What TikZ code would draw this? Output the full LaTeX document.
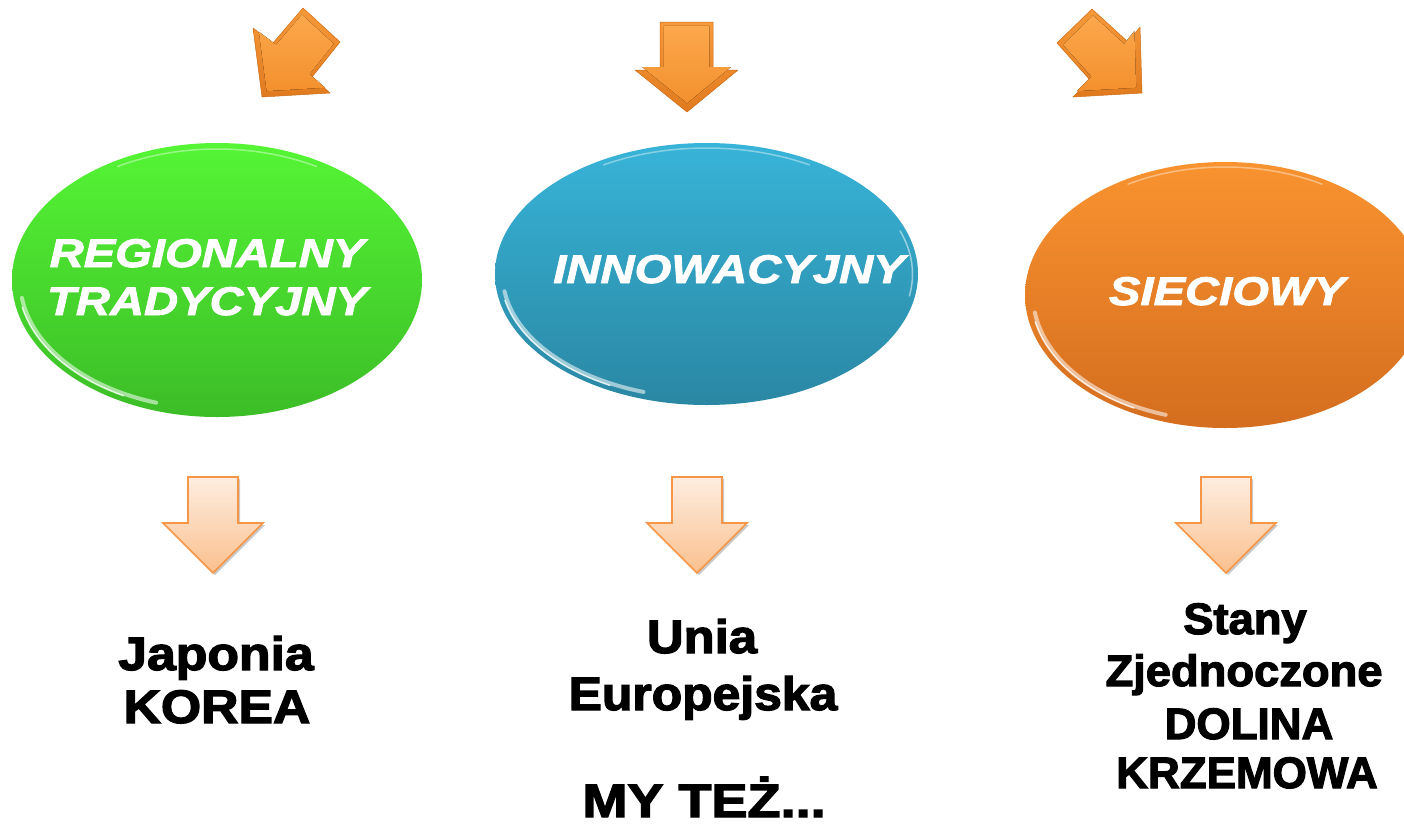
\documentclass[tikz,border=0pt]{standalone}
\usepackage{fontspec}
\setmainfont{Liberation Sans}
\newfontfamily\blk{Liberation Sans}[BoldFeatures={FakeBold=2.6}]
\newfontfamily\elf{Liberation Sans}[FakeStretch=1.18,BoldItalicFeatures={FakeBold=2.2}]
\usetikzlibrary{shapes.geometric}
\definecolor{gTop}{HTML}{55F535}
\definecolor{gBot}{HTML}{3CBD27}
\definecolor{bTop}{HTML}{38B4D8}
\definecolor{bBot}{HTML}{2A87A3}
\definecolor{oTop}{HTML}{F99330}
\definecolor{oBot}{HTML}{D46D1E}
\definecolor{arTop}{HTML}{F79A3A}
\definecolor{arBot}{HTML}{E07A1E}
\definecolor{arEdge}{HTML}{D06A12}
\definecolor{arInTop}{HTML}{FCA84C}
\definecolor{arInBot}{HTML}{F3902E}
\definecolor{lTop}{HTML}{FDEDE0}
\definecolor{lBot}{HTML}{FBC08E}
\definecolor{lEdge}{HTML}{F79646}
\tikzset{
  oval/.style={ellipse, inner sep=0pt, draw=none},
  ovaltext/.style={text=white, font=\elf\bfseries\itshape\fontsize{40}{44}\selectfont, anchor=base, inner sep=0pt},
  bigtext/.style={text=black, font=\blk\bfseries\fontsize{47}{52}\selectfont, anchor=base, inner sep=0pt},
  midtext/.style={text=black, font=\blk\bfseries\fontsize{44}{50}\selectfont, anchor=base, inner sep=0pt},
  hl/.style={white, line cap=round, opacity=0.55, line width=4pt},
  hlthin/.style={white, line cap=round, opacity=0.8, line width=1.5pt},
  toparrow/.style={top color=arTop, bottom color=arBot, draw=arEdge, line width=0.5pt, line join=round},
  toparrowin/.style={top color=arInTop, bottom color=arInBot, draw=none},
  lightarrow/.pic={
    \fill[black!35, opacity=0.6] (-25+2,0+2) -- (25+2,0+2) -- (25+2,46+2) -- (50+2,46+2) -- (0+2,96+2) -- (-50+2,46+2) -- (-25+2,46+2) -- cycle;
    \draw[top color=lTop, bottom color=lBot, draw=lEdge, line width=1.6pt, line join=miter]
      (-25,0) -- (25,0) -- (25,46) -- (50,46) -- (0,96) -- (-50,46) -- (-25,46) -- cycle;
  },
  arrowdl/.pic={
    \draw[toparrow] (8,-47) -- (45,-13) -- (17,22) -- (35,38) -- (-33,42) -- (-42,-27) -- (-22,-12) -- cycle;
    \begin{scope}[scale=0.86]
      \fill[toparrowin] (8,-47) -- (45,-13) -- (17,22) -- (35,38) -- (-33,42) -- (-42,-27) -- (-22,-12) -- cycle;
    \end{scope}
  },
  arrowdn/.pic={
    \draw[toparrow] (-27,-40) -- (26,-40) -- (26,8) -- (51,8) -- (0,50) -- (-52,8) -- (-27,8) -- cycle;
    \begin{scope}[scale=0.86, shift={(0,-2)}]
      \fill[toparrowin] (-27,-40) -- (26,-40) -- (26,8) -- (51,8) -- (0,50) -- (-52,8) -- (-27,8) -- cycle;
    \end{scope}
  },
  arrowdr/.pic={
    \draw[toparrow] (-8,-46) -- (28,-13) -- (40,-28) -- (42,38) -- (-27,42) -- (-10,25) -- (-43,-12) -- cycle;
    \begin{scope}[scale=0.86]
      \fill[toparrowin] (-8,-46) -- (28,-13) -- (40,-28) -- (42,38) -- (-27,42) -- (-10,25) -- (-43,-12) -- cycle;
    \end{scope}
  }
}
\begin{document}
\begin{tikzpicture}[x=1pt,y=-1pt]
\clip (0,0) rectangle (1404,828);
\fill[white] (0,0) rectangle (1404,828);

% top arrows
\pic at (295,55) {arrowdl};
\pic at (687,62) {arrowdn};
\pic at (1100,55) {arrowdr};

% ellipses
\node[oval, minimum width=410pt, minimum height=274pt, top color=gTop, bottom color=gBot] (green) at (217,280) {};
\node[oval, minimum width=423pt, minimum height=262pt, top color=bTop, bottom color=bBot] (blue) at (706.5,274) {};
\node[oval, minimum width=400pt, minimum height=266pt, top color=oTop, bottom color=oBot] (orange) at (1225,295) {};

% glossy highlights
\draw[hl] (217,280) ++(172:197 and 129) arc[start angle=172, end angle=108, x radius=197, y radius=129];
\draw[hlthin] (217,280) ++(168:199 and 131) arc[start angle=168, end angle=118, x radius=199, y radius=131];
\draw[hlthin, opacity=0.4] (217,280) ++(240:199 and 131) arc[start angle=240, end angle=300, x radius=199, y radius=131];

\draw[hl] (706.5,274) ++(172:204 and 124) arc[start angle=172, end angle=108, x radius=204, y radius=124];
\draw[hlthin] (706.5,274) ++(168:206 and 126) arc[start angle=168, end angle=118, x radius=206, y radius=126];
\draw[hlthin, opacity=0.4] (706.5,274) ++(240:206 and 126) arc[start angle=240, end angle=300, x radius=206, y radius=126];
\draw[hlthin, opacity=0.5] (706.5,274) ++(10:206 and 126) arc[start angle=10, end angle=-20, x radius=206, y radius=126];

\draw[hl] (1225,295) ++(172:192 and 126) arc[start angle=172, end angle=108, x radius=192, y radius=126];
\draw[hlthin] (1225,295) ++(168:194 and 128) arc[start angle=168, end angle=118, x radius=194, y radius=128];
\draw[hlthin, opacity=0.4] (1225,295) ++(240:194 and 128) arc[start angle=240, end angle=300, x radius=194, y radius=128];

% ellipse labels
\node[ovaltext] (t1a) at (207,267) {REGIONALNY};
\node[ovaltext] (t1b) at (207,315) {TRADYCYJNY};
\node[ovaltext] (t2) at (729,283) {INNOWACYJNY};
\node[ovaltext] (t3) at (1227,305) {SIECIOWY};

% light arrows
\pic at (213,477) {lightarrow};
\pic at (697,477) {lightarrow};
\pic at (1226,477) {lightarrow};

% bottom texts
\node[bigtext] (l1) at (216,670) {\scalebox{1.1}[1]{Japonia}};
\node[bigtext] (l2) at (217,723) {\scalebox{1.1}[1]{KOREA}};
\node[bigtext] (m1) at (702,653) {\scalebox{1.08}[1]{Unia}};
\node[bigtext] (m2) at (703,710) {\scalebox{1.06}[1]{Europejska}};
\node[bigtext] (m3) at (704,817) {\scalebox{1.15}[1]{MY TEŻ...}};
\node[midtext] (r1) at (1245,634) {\scalebox{1.03}[1]{Stany}};
\node[midtext] (r2) at (1244,686) {\scalebox{1.03}[1]{Zjednoczone}};
\node[midtext] (r3) at (1249,739) {DOLINA};
\node[midtext] (r4) at (1247,788) {KRZEMOWA};
\end{tikzpicture}
\end{document}
